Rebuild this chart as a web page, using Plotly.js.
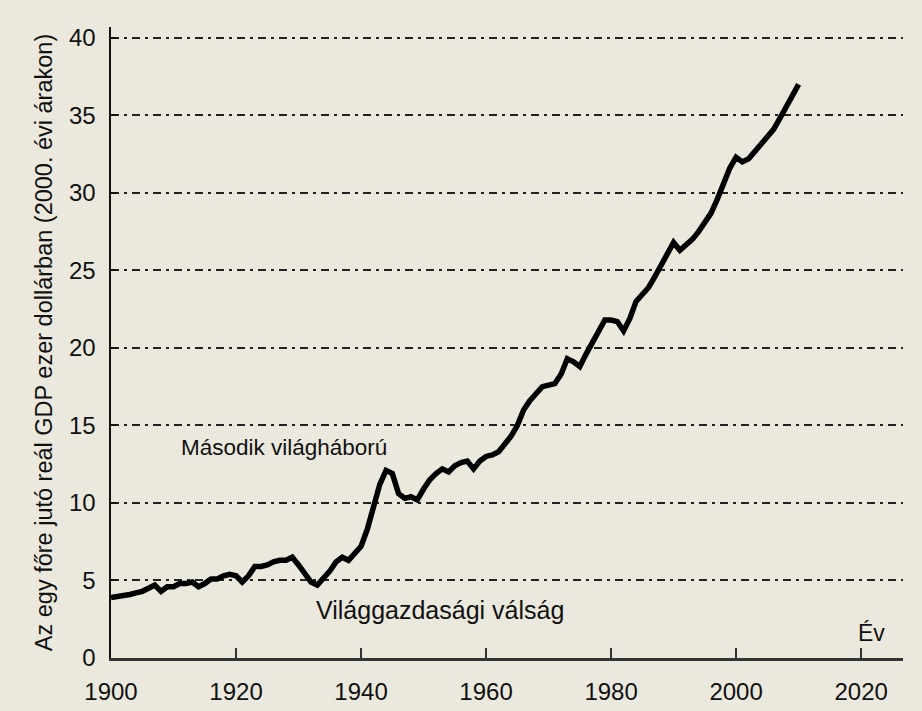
<!DOCTYPE html>
<html>
<head>
<meta charset="utf-8">
<script src="https://cdn.plot.ly/plotly-3.0.1.min.js"></script>
<style>html,body{margin:0;padding:0;background:#ebe9de;}</style>
</head>
<body>
<div id="chart" style="width:922px;height:711px;"></div>
<script>
const years = [1900,1901,1902,1903,1904,1905,1906,1907,1908,1909,
1910,1911,1912,1913,1914,1915,1916,1917,1918,1919,
1920,1921,1922,1923,1924,1925,1926,1927,1928,1929,
1930,1931,1932,1933,1934,1935,1936,1937,1938,1939,
1940,1941,1942,1943,1944,1945,1946,1947,1948,1949,
1950,1951,1952,1953,1954,1955,1956,1957,1958,1959,
1960,1961,1962,1963,1964,1965,1966,1967,1968,1969,
1970,1971,1972,1973,1974,1975,1976,1977,1978,1979,
1980,1981,1982,1983,1984,1985,1986,1987,1988,1989,
1990,1991,1992,1993,1994,1995,1996,1997,1998,1999,
2000,2001,2002,2003,2004,2005,2006,2007,2008,2009,2010];
const gdpPerCapita = [3.9,3.95,4.0,4.1,4.2,4.3,4.5,4.7,4.3,4.6,
4.6,4.8,4.8,4.9,4.6,4.8,5.1,5.1,5.3,5.4,
5.3,4.9,5.3,5.9,5.9,6.0,6.2,6.3,6.3,6.5,
6.0,5.5,4.9,4.7,5.1,5.6,6.2,6.5,6.3,6.7,
7.2,8.3,9.8,11.2,12.1,11.9,10.6,10.3,10.4,10.2,
10.9,11.5,11.9,12.2,12.0,12.4,12.6,12.7,12.2,12.7,
13.0,13.1,13.3,13.8,14.3,15.0,16.0,16.6,17.1,17.5,
17.6,17.7,18.3,19.3,19.1,18.8,19.6,20.3,21.1,21.8,
21.8,21.7,21.1,21.9,23.0,23.5,23.9,24.6,25.3,26.1,
26.8,26.3,26.6,27.0,27.5,28.1,28.7,29.6,30.6,31.6,
32.3,32.0,32.2,32.7,33.1,33.6,34.1,34.8,35.5,36.3,37.0];
const xTicks = [1900,1920,1940,1960,1980,2000,2020];
const yTicks = [0,5,10,15,20,25,30,35,40];
const yTitle = "Az egy főre jutó reál GDP ezer dollárban (2000. évi árakon)";
const xTitle = "Év";
const notes = [
  {text: "Második világháború", x: 1927.7, y: 13.55, size: 22.5},
  {text: "Világgazdasági válság", x: 1952.6, y: 3.1, size: 25}
];

const font = "Liberation Sans, Arial, sans-serif";
const bg = "#ebe9de";

const trace = {
  x: years, y: gdpPerCapita, type: "scatter", mode: "lines",
  line: {color: "#000", width: 5.5, shape: "linear"},
  hoverinfo: "skip"
};

const annotations = notes.map(n => ({
  x: n.x, y: n.y, xref: "x", yref: "y", text: n.text, showarrow: false,
  font: {family: font, size: n.size, color: "#111"}
}));
annotations.push({
  x: 2021.6, y: 1.6, xref: "x", yref: "y", text: xTitle, showarrow: false,
  font: {family: font, size: 23, color: "#111"}
});

const layout = {
  width: 922, height: 711,
  paper_bgcolor: bg, plot_bgcolor: bg,
  margin: {l: 111, r: 19, t: 27, b: 53},
  showlegend: false,
  font: {family: font, color: "#111"},
  xaxis: {
    range: [1900, 2026.7], tickvals: xTicks, ticktext: xTicks.map(String),
    showgrid: false, zeroline: false,
    showline: true, linecolor: "#333", linewidth: 2.5,
    ticks: "inside", ticklen: 10, tickwidth: 2, tickcolor: "#333",
    tickfont: {family: font, size: 24, color: "#111"},
    ticklabelstandoff: 11
  },
  yaxis: {
    range: [0, 40.7], tickvals: yTicks, ticktext: yTicks.map(String),
    showgrid: true, gridcolor: "#222", gridwidth: 2, griddash: "8px,5px,3px,5px",
    zeroline: false,
    showline: true, linecolor: "#111", linewidth: 2.5,
    ticks: "inside", ticklen: 6, tickwidth: 2, tickcolor: "#111",
    tickfont: {family: font, size: 24, color: "#111"},
    ticklabelstandoff: 8,
    title: {text: yTitle, font: {family: font, size: 23.5, color: "#111"}, standoff: 10}
  },
  annotations: annotations
};

Plotly.newPlot("chart", [trace], layout, {displayModeBar: false, staticPlot: true});
</script>
</body>
</html>
